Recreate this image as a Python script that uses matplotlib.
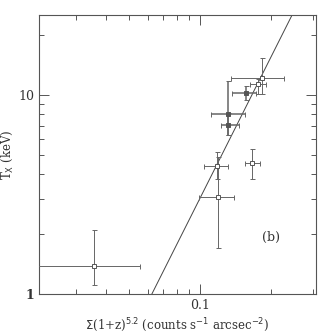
import numpy as np
import matplotlib.pyplot as plt
from matplotlib.ticker import LogLocator, FixedLocator, NullFormatter, FixedFormatter

# surface brightness vs temperature
sb = [0.0356, 0.1188, 0.1177, 0.132, 0.132, 0.1567, 0.176, 0.1825, 0.166]
sb_lo = [0.015, 0.0993, 0.104, 0.111, 0.123, 0.137, 0.1636, 0.135, 0.155]
sb_hi = [0.0558, 0.140, 0.131, 0.155, 0.146, 0.1725, 0.19, 0.2275, 0.1795]
tx = [1.39, 3.08, 4.41, 8.05, 7.09, 10.2, 11.3, 12.2, 4.57]
tx_lo = [1.105, 1.70, 3.77, 6.29, 6.29, 9.44, 10.1, 10.1, 3.78]
tx_hi = [2.1, 4.9, 5.15, 11.76, 8.1, 11.1, 12.0, 15.3, 5.35]
filled = [False, False, False, True, True, True, False, False, False]

# power-law fit  T = (S / s0)^slope
fit_s0 = 0.0626
fit_slope = 2.36

col = '#555555'
fig = plt.figure(figsize=(3.27, 3.35), dpi=100)
ax = fig.add_axes([0.119, 0.1224, 0.847, 0.8326])
ax.set_xscale('log')
ax.set_yscale('log')
ax.set_xlim(0.0208, 0.31)
ax.set_ylim(1, 25.2)

for i in range(len(sb)):
    xe = [[sb[i] - sb_lo[i]], [sb_hi[i] - sb[i]]]
    ye = [[tx[i] - tx_lo[i]], [tx_hi[i] - tx[i]]]
    ax.errorbar(sb[i], tx[i], xerr=xe, yerr=ye, fmt='s', ms=3.2, mfc='#555555' if filled[i] else 'white',
                mec=col, mew=0.7, ecolor='#666666', elinewidth=0.7 if not filled[i] else 1.1, capsize=1.8,
                capthick=0.6, zorder=3)

xs = np.logspace(np.log10(0.05), np.log10(0.3), 100)
ax.plot(xs, (xs / fit_s0) ** fit_slope, color='#444444', lw=0.7, zorder=2)

ax.xaxis.set_major_locator(FixedLocator([0.1]))
ax.xaxis.set_major_formatter(FixedFormatter(['0.1']))
ax.xaxis.set_minor_locator(LogLocator(base=10, subs=np.arange(2, 10)))
ax.xaxis.set_minor_formatter(NullFormatter())
ax.yaxis.set_major_locator(FixedLocator([1, 10]))
ax.yaxis.set_major_formatter(FixedFormatter(['1', '10']))
ax.yaxis.set_minor_locator(LogLocator(base=10, subs=np.arange(2, 10)))
ax.yaxis.set_minor_formatter(NullFormatter())

ax.tick_params(which='both', direction='in', top=True, right=True, color=col, width=0.7,
               labelsize=9, labelcolor='#333333')
ax.tick_params(which='major', length=7)
ax.tick_params(which='minor', length=3.5)
for lab in ax.get_yticklabels():
    if lab.get_text() == '1':
        lab.set_fontweight('bold')
for s in ax.spines.values():
    s.set_color(col)
    s.set_linewidth(0.8)

for lab in ax.get_xticklabels() + ax.get_yticklabels():
    lab.set_family('DejaVu Serif')

ax.set_xlabel(r'$\Sigma$(1+z)$^{5.2}$ (counts s$^{-1}$ arcsec$^{-2}$)', family='DejaVu Serif',
              fontsize=8.5, color='#333333', labelpad=3)
ax.set_ylabel(r'T$_{\rm X}$ (keV)', family='DejaVu Serif', fontsize=8.5, color='#333333', labelpad=2)
ax.text(0.2, 1.92, '(b)', family='DejaVu Serif', fontsize=9, color='#333333', ha='center', va='center')

fig.savefig('out.png', dpi=100)
